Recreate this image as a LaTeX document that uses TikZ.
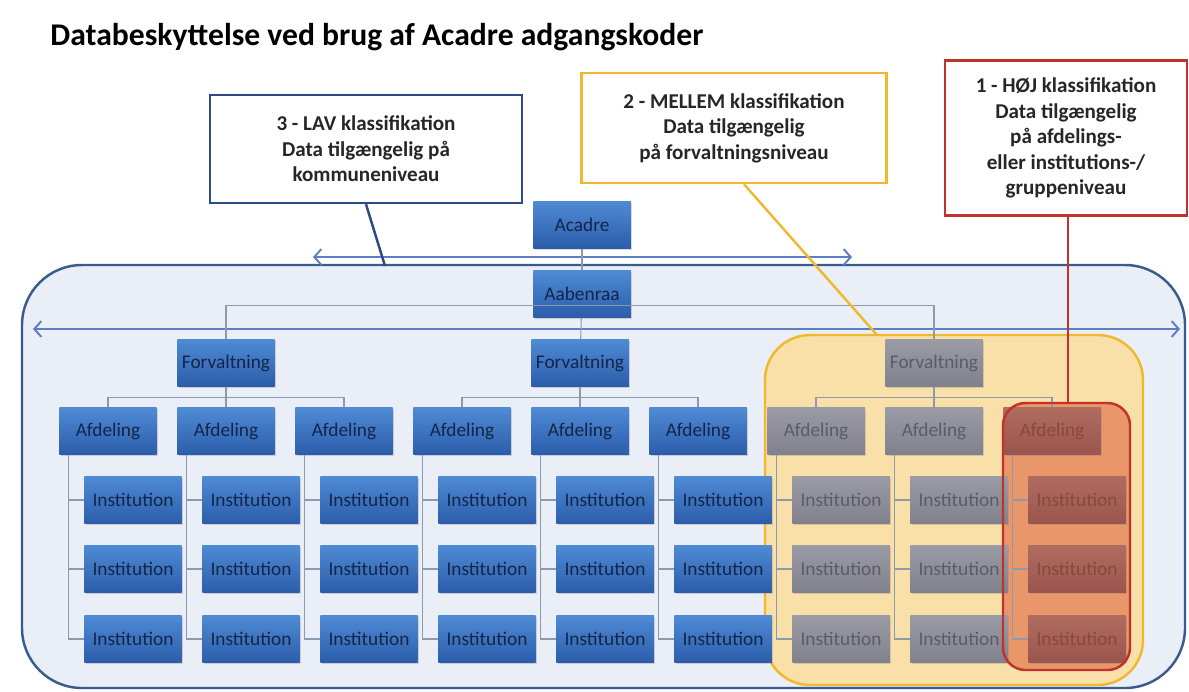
\documentclass[tikz,border=0pt]{standalone}
\usepackage{fontspec}
\setmainfont{Carlito}
\usetikzlibrary{arrows.meta,shadows}
\definecolor{acblue}{HTML}{4F8AD4}
\definecolor{acbluedk}{HTML}{2B5DAA}
\definecolor{acnavy}{HTML}{14254A}
\definecolor{acgrey}{HTML}{9A9BA5}
\definecolor{acgreydk}{HTML}{80818C}
\definecolor{acgreytx}{HTML}{5B5C66}
\definecolor{acrust}{HTML}{B06C60}
\definecolor{acrustdk}{HTML}{9A564E}
\definecolor{acrusttx}{HTML}{86483F}
\definecolor{acline}{HTML}{8C9AB0}
\definecolor{acarrow}{HTML}{5A80C2}
\definecolor{acframe}{HTML}{3A5B8D}
\definecolor{acpale}{HTML}{EAEEF6}
\definecolor{aclav}{HTML}{2D4B82}
\definecolor{acgold}{HTML}{F0B82E}
\definecolor{acsand}{HTML}{F9E0A8}
\definecolor{acred}{HTML}{C2322B}
\definecolor{acorange}{HTML}{E9966A}

\begin{document}
\begin{tikzpicture}[x=0.02cm,y=-0.02cm,
  every node/.style={font=\fontsize{11}{13}\selectfont},
  unit/.style={top color=acblue,bottom color=acbluedk,text=acnavy,minimum width=1.95cm,minimum height=0.94cm,inner sep=0pt,
    drop shadow={shadow xshift=0.8pt,shadow yshift=-0.8pt,opacity=0.3}},
  greyunit/.style={unit,top color=acgrey,bottom color=acgreydk,text=acgreytx},
  redunit/.style={unit,top color=acrust,bottom color=acrustdk,text=acrusttx},
  note/.style={draw,line width=1.4pt,fill=white,align=center,inner sep=0pt,text=black!85,
    font=\fontsize{12}{14.5}\selectfont\bfseries},
  tree/.style={draw=acline,line width=0.6pt},
  span/.style={draw=acarrow,line width=1.1pt,{Straight Barb[length=4pt,width=9pt]}-{Straight Barb[length=4pt,width=9pt]}},
  hint/.style={line width=1.4pt}]
\useasboundingbox (0,0) rectangle (1189,691);

\node[anchor=base west,inner sep=0pt,font=\fontsize{18}{21}\selectfont\bfseries] (title) at (50,45)
  {Databeskyttelse ved brug af Acadre adgangskoder};

% municipality frame and the two overlays
\draw[acframe,line width=1.4pt,fill=acpale,rounded corners=1.2cm] (22,265) rectangle (1185,688);
\draw[acgold,line width=1.4pt,fill=acsand,rounded corners=0.9cm] (765,335) rectangle (1143,685);
\fill[acorange,rounded corners=0.45cm] (1003,403) rectangle (1130,670);

% spans
\coordinate (topl) at (313,257); \coordinate (topr) at (852,257);
\coordinate (midl) at (33,329);  \coordinate (midr) at (1180,329);
\draw[span] (topl) -- (topr);
\draw[span] (midl) -- (midr);

\node[unit] (acadre) at (582,225) {Acadre};
\node[unit] (aab) at (582,294) {Aabenraa};
\draw[tree] (acadre) -- (aab);

\foreach \k/\st in {1/unit,2/unit,3/greyunit}
  \node[\st] (forv\k) at ({226+354*(\k-1)},363) {Forvaltning};
\draw[tree] (forv1.north) -- ++(0,-34) -| (forv3.north);
\draw[tree] (aab) -- (forv2);

\foreach \i/\st in {1/unit,2/unit,3/unit,4/unit,5/unit,6/unit,7/greyunit,8/greyunit,9/redunit}{
  \node[\st] (afd\i) at ({108+118*(\i-1)},431) {Afdeling};
  \coordinate (spine\i) at ([xshift=0.2cm]afd\i.south west);
  \foreach \j/\y in {1/500,2/569,3/639}{
    \node[\st] (inst\i-\j) at ({133+118*(\i-1)},\y) {Institution};
    \draw[tree] (spine\i |- inst\i-\j.west) -- (inst\i-\j.west);
  }
  \draw[tree] (spine\i) |- (inst\i-3.west);
}
\foreach \k in {1,2,3}{
  \pgfmathtruncatemacro\fst{3*\k-2}
  \pgfmathtruncatemacro\mid{3*\k-1}
  \pgfmathtruncatemacro\lst{3*\k}
  \draw[tree] (afd\fst.north) -- ++(0,-10) -| (afd\lst.north);
  \draw[tree] (forv\k) -- (afd\mid);
}
\draw[acred,line width=1.4pt,rounded corners=0.45cm] (1003,403) rectangle (1130,670);

% classification notes
\node[note,draw=aclav,minimum width=6.24cm,minimum height=2.16cm] (lav) at (366,149)
  {3 - LAV klassifikation\\Data tilgængelig på\\kommuneniveau};
\node[note,draw=acgold,minimum width=6.1cm,minimum height=2.2cm] (mellem) at (734,128)
  {2 - MELLEM klassifikation\\Data tilgængelig\\på forvaltningsniveau};
\node[note,draw=acred,minimum width=4.84cm,minimum height=3.1cm] (hoej) at (1066,138)
  {1 - HØJ klassifikation\\Data tilgængelig\\på afdelings-\\eller institutions-/\\gruppeniveau};

\coordinate (lavend) at (385,266);
\coordinate (mellemend) at (877,335);
\coordinate (hoejend) at (1068,403);
\draw[hint,aclav] (lav.south) -- (lavend);
\draw[hint,acgold] ([xshift=0.2cm]mellem.south) -- (mellemend);
\draw[hint,acred] (hoej.south -| hoejend) -- (hoejend);
\end{tikzpicture}
\end{document}
